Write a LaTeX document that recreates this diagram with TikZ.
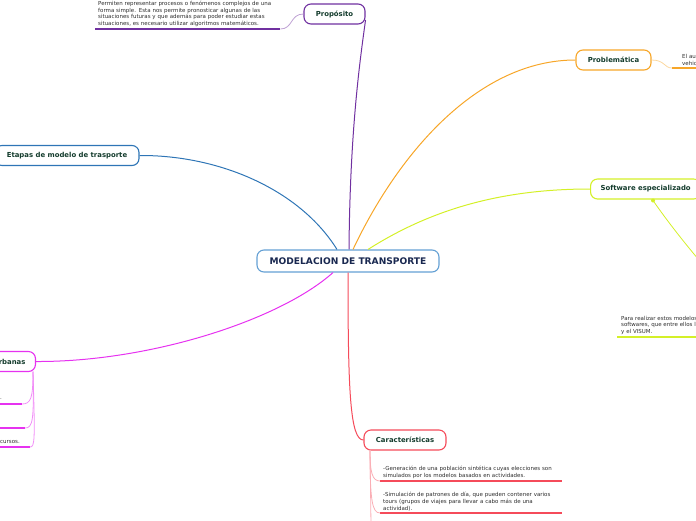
\documentclass[tikz,border=0pt]{standalone}
\usepackage{fontspec}
\setmainfont{DejaVu Sans}
\usepackage{xcolor}
\definecolor{mmblue}{RGB}{46,117,182}
\definecolor{mmsky}{RGB}{100,160,212}
\definecolor{mmnavy}{RGB}{25,40,80}
\definecolor{mmpurple}{RGB}{112,48,160}
\definecolor{mmorange}{RGB}{247,166,40}
\definecolor{mmlime}{RGB}{212,240,40}
\definecolor{mmmagenta}{RGB}{230,50,240}
\definecolor{mmred}{RGB}{245,75,90}
\definecolor{mmtitle}{RGB}{20,60,45}
\definecolor{mmtext}{RGB}{45,45,45}
\usepackage{tikz}
\usetikzlibrary{positioning}

\tikzset{
  topic/.style={draw, fill=white, rounded corners=7pt, line width=1.1pt, text=mmtitle,
    font=\fontsize{6.9}{8}\selectfont\bfseries, minimum height=20pt, inner xsep=10pt},
  note/.style={text=mmtext, font=\fontsize{5.5}{6.8}\selectfont, align=left, inner sep=0pt},
  textline/.style={note, text width=#1, inner xsep=3pt, inner ysep=2pt, anchor=south west},
}

\begin{document}
\begin{tikzpicture}[x=1pt,y=-1pt]
  \useasboundingbox (0,0) rectangle (696,520);
  \clip (0,0) rectangle (696,520);

  % Central topic
  \node[topic, draw=mmsky, text=mmnavy, minimum width=182pt, minimum height=22pt,
    font=\fontsize{9.1}{10}\selectfont\bfseries] (root) at (348,261) {MODELACION DE TRANSPORTE};

  % Top: Proposito
  \node[topic, draw=mmpurple, minimum width=61pt] (prop) at (334.5,14) {Propósito};
  \draw[mmpurple, line width=1pt] ([xshift=1pt]root.north) .. controls (350,130) and (360,60) .. ([yshift=-6pt]prop.east);
  \node[textline=179pt] (propnote) at (95,29) {Permiten representar procesos o fenómenos complejos de una\\
    forma simple. Esta nos permite pronosticar algunas de las\\
    situaciones futuras y que además para poder estudiar estas\\
    situaciones, es necesario utilizar algoritmos matemáticos.};
  \draw[mmpurple, line width=1.5pt] (propnote.south west) -- (propnote.south east);
  \draw[mmpurple!45, line width=0.8pt] (prop.west) .. controls (290,14) and (293,29) .. (propnote.south east);

  % Top-right: Problematica
  \node[topic, draw=mmorange, minimum width=75pt] (prob) at (613.5,60) {Problemática};
  \draw[mmorange, line width=1pt] ([xshift=5pt]root.north) .. controls (400,150) and (480,60) .. (prob.west);
  \node[textline=60pt, inner xsep=10pt] (probnote) at (672,68) {El au\\vehic};
  \draw[mmorange, line width=1.5pt] (probnote.south west) -- (probnote.south east);
  \draw[mmorange!45, line width=0.8pt] (prob.east) .. controls (665,60) and (664,68) .. (probnote.south west);

  % Right: Software especializado
  \node[topic, draw=mmlime, anchor=west] (soft) at (590,189) {Software especializado};
  \draw[mmlime, line width=1pt] ([xshift=20pt]root.north) .. controls (430,210) and (500,189) .. (soft.west);
  \fill[mmlime] (653,200.5) circle (2pt) coordinate (softdot);
  \coordinate (softend) at (716,280);
  \draw[mmlime, line width=0.8pt] (softdot) .. controls (670,225) and (690,250) .. (softend);
  \node[textline=100pt, inner xsep=4pt] (softnote) at (617,337) {Para realizar estos modelos\\
    softwares, que entre ellos l\\y el VISUM.};
  \draw[mmlime, line width=2pt] (softnote.south west) -- (softnote.south east);

  % Left: Etapas
  \node[topic, draw=mmblue, minimum width=144pt] (etapa) at (67,155.5) {Etapas de modelo de trasporte};
  \draw[mmblue, line width=1pt] ([xshift=-11pt]root.north) .. controls (300,190) and (220,155) .. (etapa.east);

  % Bottom-left: urbanas
  \node[topic, draw=mmmagenta, anchor=east] (urb) at (36,361.5) {rbanas};
  \draw[mmmagenta, line width=1pt] ([xshift=-15pt]root.south) .. controls (280,320) and (150,362) .. (urb.east);
  \node[note, anchor=base west] (urbone) at (0,399) {.};
  \node[note, anchor=base west] (urbthree) at (0,443) {cursos.};
  \coordinate (urbtop) at (33,371.5);
  \coordinate (urbonea) at (-5,404);   \coordinate (urboneb) at (22,404);
  \coordinate (urbtwoa) at (-5,428);   \coordinate (urbtwob) at (25,428);
  \coordinate (urbthreea) at (-5,447); \coordinate (urbthreeb) at (30,447);
  \draw[mmmagenta, line width=1.5pt] (urbonea) -- (urboneb);
  \draw[mmmagenta, line width=1.5pt] (urbtwoa) -- (urbtwob);
  \draw[mmmagenta, line width=1.5pt] (urbthreea) -- (urbthreeb);
  \draw[mmmagenta!55, line width=0.8pt] (urbtop) .. controls (33,398) and (31,404) .. (urboneb);
  \draw[mmmagenta!55, line width=0.8pt] (urbtop) .. controls (34,420) and (33,428) .. (urbtwob);
  \draw[mmmagenta!55, line width=0.8pt] (urbtop) .. controls (35,440) and (35,447) .. (urbthreeb);

  % Bottom: Caracteristicas
  \node[topic, draw=mmred, minimum width=82pt] (carac) at (405,440) {Características};
  \draw[mmred, line width=1pt] (root.south) .. controls (348,390) and (350,440) .. (carac.west);
  \node[textline=176pt] (caracone) at (380,481) {-Generación de una población sintética cuyas elecciones son\\
    simulados por los modelos basados en actividades.};
  \node[textline=176pt] (caractwo) at (380,513) {-Simulación de patrones de día, que pueden contener varios\\
    tours (grupos de viajes para llevar a cabo más de una\\actividad).};
  \draw[mmred, line width=1.5pt] (caracone.south west) -- (caracone.south east);
  \draw[mmred, line width=1.5pt] (caractwo.south west) -- (caractwo.south east);
  \coordinate (caractop) at (370,449.5);
  \coordinate (caracend) at (371,525);
  \draw[mmred!45, line width=0.8pt] (caractop) .. controls (370,472) and (372,481) .. (caracone.south west);
  \draw[mmred!45, line width=0.8pt] (caractop) .. controls (370,500) and (372,513) .. (caractwo.south west);
  \draw[mmred!45, line width=0.8pt] (caractop) -- (caracend);
\end{tikzpicture}
\end{document}
